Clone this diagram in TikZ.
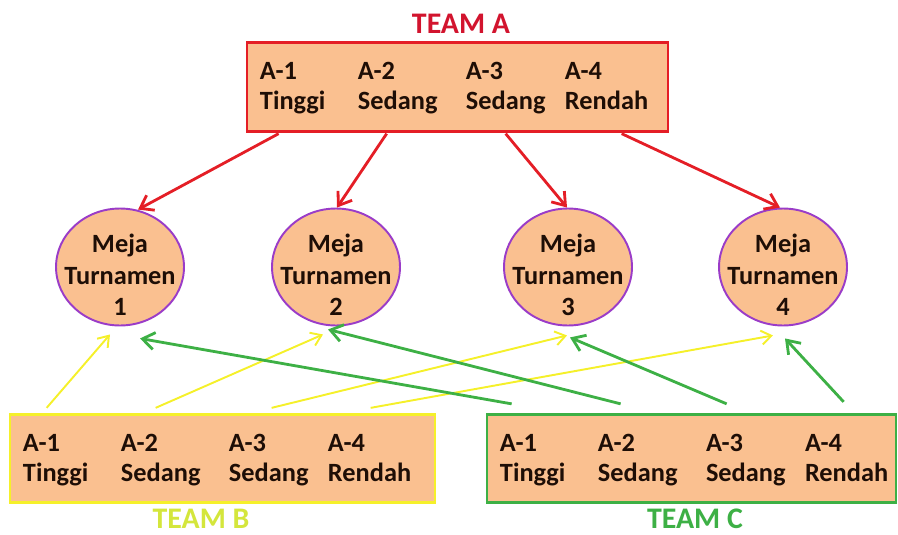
\documentclass[tikz,border=0pt]{standalone}
\usepackage{fontspec}
\setmainfont{Carlito}
\usetikzlibrary{arrows.meta, positioning, shapes.geometric, calc}
\definecolor{cred}{HTML}{E41E26}
\definecolor{ctitle}{HTML}{D2142E}
\definecolor{cpeach}{HTML}{FAC090}
\definecolor{cpurple}{HTML}{9A3CC8}
\definecolor{cyellow}{HTML}{F5F02A}
\definecolor{cyelltitle}{HTML}{D4E63C}
\definecolor{cgreen}{HTML}{3DB045}
\definecolor{ctext}{HTML}{1E0E06}
\tikzset{
  every picture/.style={font=\bfseries},
  team/.style={draw=#1, fill=cpeach, line width=1.6pt, minimum height=1.77cm, inner sep=0pt},
  member/.style={font=\fontsize{15}{17}\selectfont\bfseries, text=ctext, align=left, inner sep=0pt, anchor=north west},
  teamtitle/.style={font=\fontsize{17}{20}\selectfont\bfseries, text=#1, inner sep=1pt},
  meja/.style={ellipse, draw=cpurple, fill=cpeach, line width=1.1pt, minimum width=2.56cm, minimum height=2.34cm},
  mejatext/.style={font=\fontsize{15}{18}\selectfont\bfseries, text=ctext, align=center, inner sep=0pt},
  arrow/.style={-{Straight Barb[length=2.4mm, width=3.4mm]}, draw=#1, line width=1.6pt},
  thinarrow/.style={-{Straight Barb[length=2mm, width=2.8mm]}, draw=#1, line width=1.1pt},
}
\begin{document}
\begin{tikzpicture}[x=0.02cm, y=-0.02cm]
  \useasboundingbox (0,0) rectangle (898,534);
  % the three teams, four members each
  \node[team=cred, minimum width=8.42cm] (teamA) at (457.5,87) {};
  \node[team=cyellow, minimum width=8.5cm] (teamB) at (222.5,458.5) {};
  \node[team=cgreen, minimum width=8.18cm] (teamC) at (691.5,458.5) {};
  \foreach \t in {teamA, teamB, teamC}
    \foreach \i/\dx/\lvl in {1/14/Tinggi, 2/112/Sedang, 3/220/Sedang, 4/319/Rendah}
      \node[member] (\t\i) at ($(\t.north west)+(\dx,21)$) {A-\i\\\lvl};
  \node[teamtitle=ctitle] (titleA) at (461,24) {TEAM A};
  \node[teamtitle=cyelltitle] (titleB) at (201,519) {TEAM B};
  \node[teamtitle=cgreen] (titleC) at (695,519) {TEAM C};
  % the four tournament tables
  \foreach \i/\x in {1/120, 2/336, 3/568, 4/783} {
    \node[meja] (m\i) at (\x,267) {};
    \node[mejatext] (l\i) at ($(m\i)+(0,8)$) {Meja\\Turnamen\\\i};
  }
  % team A goes down, teams B and C go up
  \foreach \i/\dx/\ex/\ey in {1/33/18/2, 2/141/1/0, 3/260/-1/0, 4/376/-3/0}
    \draw[arrow=cred] ($(teamA.south west)+(\dx,1)$) -- ($(m\i.north)+(\ex,\ey)$);
  \foreach \i/\dx/\ex/\ey in {1/38/-10/8, 2/147/-13/8, 3/263/-1/9, 4/362/-10/9}
    \draw[thinarrow=cyellow] ($(teamB.north west)+(\dx,-5)$) -- ($(m\i.south)+(\ex,\ey)$);
  \foreach \i/\dx/\dy/\ex/\ey in {1/26/-9/20/12, 2/135/-9/-8/3, 3/241/-9/2/11, 4/358/-11/2/12}
    \draw[arrow=cgreen] ($(teamC.north west)+(\dx,\dy)$) -- ($(m\i.south)+(\ex,\ey)$);
\end{tikzpicture}
\end{document}
